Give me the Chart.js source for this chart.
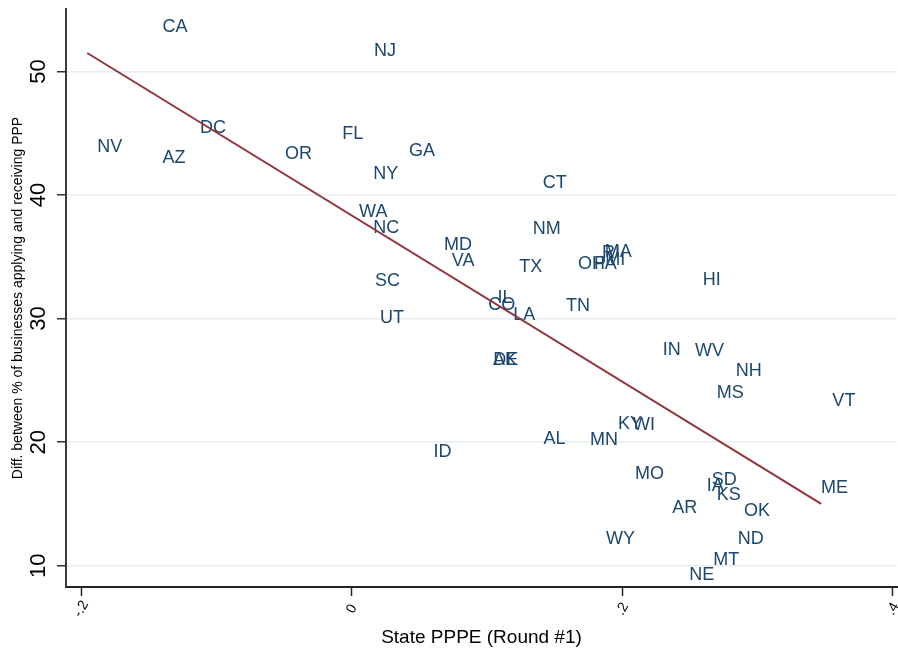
<!DOCTYPE html>
<html>
<head>
<meta charset="utf-8">
<script src="https://cdn.jsdelivr.net/npm/chart.js@4.4.1/dist/chart.umd.min.js"></script>
<style>
  html, body { margin: 0; padding: 0; background: #ffffff; }
  #wrap { width: 898px; height: 649px; position: relative; }
</style>
</head>
<body>
<div id="wrap"><canvas id="c"></canvas></div>
<script>
// ---------- data ----------
const states = ['CA','NJ','DC','FL','NV','AZ','OR','GA','NY','WA','NC','SC','UT',
  'CT','NM','MD','VA','TX','OH','PA','RI','MA','MI','HI','IL','CO','LA','TN',
  'AK','DE','IN','WV','NH','MS','VT','KY','WI','AL','MN','ID','MO','SD','IA',
  'KS','ME','AR','OK','WY','ND','MT','NE'];
const ppeRound1 = [-0.1444, 0.0120, -0.1166, -0.0114, -0.1925, -0.1444, -0.0537, 0.0379, 0.0115, 0.0010, 0.0115, 0.0128, 0.0165,
  0.1367, 0.1293, 0.0638, 0.0695, 0.1194, 0.1628, 0.1746, 0.1806, 0.1825, 0.1829, 0.2550, 0.1033, 0.0965, 0.1150, 0.1540,
  0.1000, 0.1002, 0.2254, 0.2493, 0.2794, 0.2653, 0.3508, 0.1924, 0.2035, 0.1372, 0.1717, 0.0559, 0.2050, 0.2616, 0.2579,
  0.2653, 0.3424, 0.2325, 0.2855, 0.1835, 0.2809, 0.2628, 0.2451];
const applyReceiveGap = [53.72, 51.78, 45.50, 45.09, 43.98, 43.07, 43.47, 43.66, 41.80, 38.72, 37.43, 33.16, 30.16,
  41.05, 37.34, 36.07, 34.79, 34.25, 34.57, 34.55, 35.40, 35.54, 34.86, 33.23, 31.81, 31.23, 30.40, 31.13,
  26.79, 26.76, 27.56, 27.49, 25.91, 24.12, 23.42, 21.60, 21.47, 20.40, 20.32, 19.33, 17.57, 17.02, 16.53,
  15.81, 16.44, 14.81, 14.51, 12.31, 12.31, 10.56, 9.34];
const fitX = [-0.1955, 0.347];
const fitY = [51.49, 15.0];
const xTickValues = [-0.2, 0, 0.2, 0.4];
const xTickLabels = ['-.2', '0', '.2', '.4'];
const yTickValues = [10, 20, 30, 40, 50];
const yTickLabels = ['10', '20', '30', '40', '50'];
const xTitle = 'State PPPE (Round #1)';
const yTitle = 'Diff. between % of businesses applying and receiving PPP';

// ---------- styling ----------
const FONT = '"Liberation Sans", Arial, Helvetica, sans-serif';
const LABEL_COLOR = '#1a476f';
const FIT_COLOR = '#90353b';

const pointsData = ppeRound1.map((x, i) => ({ x: x, y: applyReceiveGap[i] }));
const fitData = fitX.map((x, i) => ({ x: x, y: fitY[i] }));

const stateLabelPlugin = {
  id: 'stateLabels',
  beforeDatasetsDraw(chart) {
    const ctx = chart.ctx;
    const meta = chart.getDatasetMeta(0);
    const size = 18;
    ctx.save();
    ctx.font = size + 'px ' + FONT;
    ctx.fillStyle = LABEL_COLOR;
    ctx.textAlign = 'left';
    ctx.textBaseline = 'alphabetic';
    meta.data.forEach((el, i) => {
      ctx.fillText(states[i], el.x + 6, el.y + size * 0.358);
    });
    ctx.restore();
  }
};

const xTickLabelPlugin = {
  id: 'xTickLabels',
  afterDraw(chart) {
    const ctx = chart.ctx;
    const s = chart.scales.x;
    ctx.save();
    ctx.font = '14px ' + FONT;
    ctx.fillStyle = '#000';
    ctx.textAlign = 'center';
    ctx.textBaseline = 'middle';
    s.ticks.forEach((t) => {
      const px = s.getPixelForValue(t.value);
      ctx.save();
      ctx.translate(px, 609);
      ctx.rotate(-60 * Math.PI / 180);
      ctx.fillText(t.label, 0, 0);
      ctx.restore();
    });
    ctx.restore();
  }
};

new Chart(document.getElementById('c'), {
  type: 'scatter',
  data: {
    datasets: [
      {
        label: 'States',
        data: pointsData,
        pointRadius: 0,
        pointHoverRadius: 0,
        showLine: false
      },
      {
        label: 'Fitted values',
        data: fitData,
        showLine: true,
        borderColor: FIT_COLOR,
        borderWidth: 2,
        pointRadius: 0,
        fill: false
      }
    ]
  },
  options: {
    responsive: true,
    maintainAspectRatio: false,
    animation: false,
    devicePixelRatio: 1,
    events: [],
    layout: { padding: { top: 9, right: 1, left: 0, bottom: 0 } },
    plugins: {
      legend: { display: false },
      tooltip: { enabled: false },
      title: { display: false }
    },
    scales: {
      x: {
        type: 'linear',
        position: 'bottom',
        min: -0.2112,
        max: 0.4030,
        afterBuildTicks(scale) { scale.ticks = xTickValues.map(v => ({ value: v })); },
        afterFit(scale) {
          scale.height = 62;
          scale.paddingLeft = 0; scale.paddingRight = 0;
          scale.paddingTop = 0; scale.paddingBottom = 0;
        },
        ticks: {
          display: false,
          callback(value) { const i = xTickValues.indexOf(value); return i >= 0 ? xTickLabels[i] : ''; }
        },
        grid: {
          drawOnChartArea: false,
          drawTicks: true,
          tickLength: 9,
          tickColor: '#222',
          tickWidth: 1.5
        },
        border: { display: true, color: '#222', width: 2 },
        title: {
          display: true,
          text: xTitle,
          color: '#000',
          font: { family: FONT, size: 19 },
          padding: { top: 0, bottom: 0 }
        }
      },
      y: {
        type: 'linear',
        position: 'left',
        min: 8.28,
        max: 55.05,
        afterBuildTicks(scale) { scale.ticks = yTickValues.map(v => ({ value: v })); },
        afterFit(scale) {
          scale.width = 66;
          scale.paddingLeft = 0; scale.paddingRight = 0;
          scale.paddingTop = 0; scale.paddingBottom = 0;
        },
        ticks: {
          minRotation: 90,
          maxRotation: 90,
          crossAlign: 'center',
          padding: 6,
          color: '#000',
          font: { family: FONT, size: 22 },
          callback(value) { const i = yTickValues.indexOf(value); return i >= 0 ? yTickLabels[i] : ''; }
        },
        grid: {
          drawOnChartArea: true,
          color: '#e6eef2',
          lineWidth: 1.5,
          drawTicks: true,
          tickLength: 9,
          tickColor: '#333',
          tickWidth: 1.5
        },
        border: { display: true, color: '#3a3a3a', width: 2 },
        title: {
          display: true,
          text: yTitle,
          color: '#000',
          font: { family: FONT, size: 14 },
          padding: { top: 9.3, bottom: 0 }
        }
      }
    }
  },
  plugins: [stateLabelPlugin, xTickLabelPlugin]
});
</script>
</body>
</html>
